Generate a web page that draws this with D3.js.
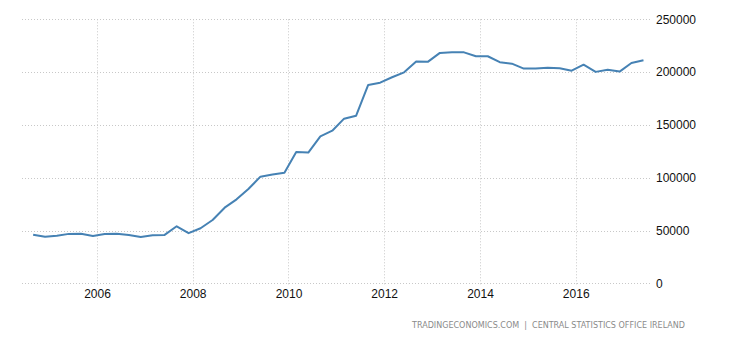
<!DOCTYPE html>
<html>
<head>
<meta charset="utf-8">
<script src="https://cdn.jsdelivr.net/npm/d3@7"></script>
<style>
  html, body { margin: 0; padding: 0; background: #fff; }
  svg { display: block; }
</style>
</head>
<body>
<svg id="chart" width="730" height="340"></svg>
<script>
// Quarterly series, first observation Sep 2004, one value every three months
const startYear = 2004, startMonth = 8;
const values = [
  46000, 44000, 45100, 46800, 47000, 44800, 46700, 47000, 45800, 43900,
  45400, 45800, 54000, 47500, 52100, 59900, 71600, 79500, 89300, 101000,
  103000, 104700, 124400, 123800, 139200, 144500, 155900, 158700, 187800, 190000,
  195100, 199800, 210100, 209900, 218200, 218700, 218700, 215000, 215000, 209400,
  208000, 203300, 203500, 204200, 203600, 201300, 207000, 200200, 202300, 200500,
  208600, 211300
];
const yTicks = [0, 50000, 100000, 150000, 200000, 250000];
const xTickYears = [2006, 2008, 2010, 2012, 2014, 2016];
const sourceText = "TRADINGECONOMICS.COM  |  CENTRAL STATISTICS OFFICE IRELAND";

const dates = values.map((_, i) => new Date(startYear, startMonth + 3 * i, 1));
const series = values.map((v, i) => ({ date: dates[i], value: v }));

const svg = d3.select("#chart");
const plotLeft = 22, plotRight = 652, plotTop = 19.3, plotBottom = 283.3;

const x = d3.scaleTime()
  .domain([new Date(2004, 5, 8), new Date(2017, 7, 5)])
  .range([plotLeft, plotRight]);
const y = d3.scaleLinear()
  .domain([0, 250000])
  .range([plotBottom, plotTop]);

const gridColor = "#c8c8c8";
const font = "'Liberation Sans', Arial, sans-serif";

// horizontal grid
svg.append("g")
  .selectAll("line")
  .data(yTicks)
  .join("line")
  .attr("x1", plotLeft).attr("x2", plotRight)
  .attr("y1", d => Math.round(y(d)) + 0.5)
  .attr("y2", d => Math.round(y(d)) + 0.5)
  .attr("stroke", gridColor)
  .attr("stroke-width", 1)
  .attr("stroke-dasharray", "1,2");

// vertical grid at even years
const xTickDates = xTickYears.map(yr => new Date(yr, 0, 1));
svg.append("g")
  .selectAll("line")
  .data(xTickDates)
  .join("line")
  .attr("x1", d => Math.round(x(d)) + 0.5)
  .attr("x2", d => Math.round(x(d)) + 0.5)
  .attr("y1", plotTop)
  .attr("y2", plotBottom + 3)
  .attr("stroke", gridColor)
  .attr("stroke-width", 1)
  .attr("stroke-dasharray", "1,2");

// y axis labels on the right
const yAxis = d3.axisRight(y)
  .tickValues(yTicks)
  .tickSize(0)
  .tickPadding(0)
  .tickFormat(d3.format("d"));
const gy = svg.append("g")
  .attr("transform", `translate(656,0)`)
  .call(yAxis);
gy.select(".domain").remove();
gy.selectAll("text")
  .attr("font-family", font)
  .attr("font-size", 12)
  .attr("fill", "#111");

// x axis labels
const xAxis = d3.axisBottom(x)
  .tickValues(xTickDates)
  .tickSize(0)
  .tickPadding(0)
  .tickFormat(d3.timeFormat("%Y"));
const gx = svg.append("g")
  .attr("transform", `translate(0,289)`)
  .call(xAxis);
gx.select(".domain").remove();
gx.selectAll("text")
  .attr("font-family", font)
  .attr("font-size", 12)
  .attr("fill", "#111");

// series line
const line = d3.line()
  .x(d => x(d.date))
  .y(d => y(d.value));
svg.append("path")
  .datum(series)
  .attr("d", line)
  .attr("fill", "none")
  .attr("stroke", "#4682b4")
  .attr("stroke-width", 2)
  .attr("stroke-linejoin", "round");

// source line
svg.append("text")
  .attr("x", 412)
  .attr("y", 328)
  .attr("text-anchor", "start")
  .attr("font-family", "'DejaVu Sans', Verdana, sans-serif")
  .attr("font-size", 9)
  .attr("fill", "#8a8a8a")
  .attr("textLength", 273)
  .attr("lengthAdjust", "spacingAndGlyphs")
  .attr("xml:space", "preserve")
  .style("white-space", "pre")
  .text(sourceText);
</script>
</body>
</html>
